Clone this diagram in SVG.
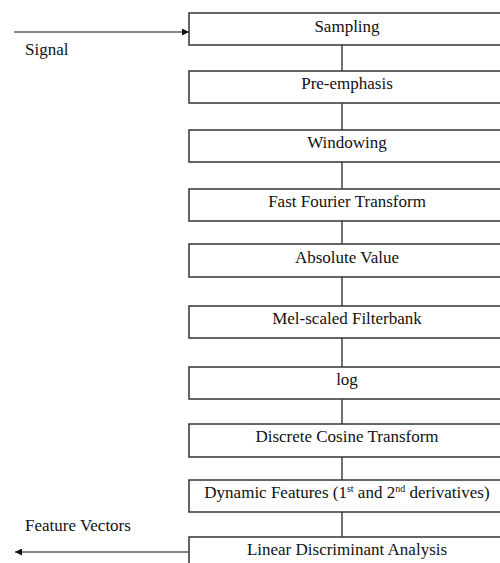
<svg xmlns="http://www.w3.org/2000/svg" width="500" height="563" viewBox="0 0 500 563">
<style>
.box{fill:#fff;stroke:#333;stroke-width:1.5}
.t{font-family:"Liberation Serif","Times New Roman",serif;font-size:17px;fill:#111;text-anchor:middle}
.l{font-family:"Liberation Serif","Times New Roman",serif;font-size:17px;fill:#111}
.c{stroke:#111;stroke-width:1.2;fill:none}
</style>
<defs>
<marker id="ah" viewBox="0 0 10 10" refX="10" refY="5" markerWidth="7" markerHeight="7" markerUnits="userSpaceOnUse" orient="auto">
<path d="M0,0L10,5L0,10z" fill="#111"/>
</marker>
</defs>
<rect width="500" height="563" fill="#fff"/>
<g id="connectors">
<line class="c" x1="14" y1="32" x2="189" y2="32" marker-end="url(#ah)"/>
<line class="c" x1="342" y1="45" x2="342" y2="71"/>
<line class="c" x1="342" y1="103" x2="342" y2="130"/>
<line class="c" x1="342" y1="162" x2="342" y2="189"/>
<line class="c" x1="342" y1="221" x2="342" y2="244"/>
<line class="c" x1="342" y1="277" x2="342" y2="306"/>
<line class="c" x1="342" y1="338" x2="342" y2="367"/>
<line class="c" x1="342" y1="399" x2="342" y2="424"/>
<line class="c" x1="342" y1="457" x2="342" y2="480"/>
<line class="c" x1="342" y1="512" x2="342" y2="537"/>
<line class="c" x1="189" y1="552" x2="15" y2="552" marker-end="url(#ah)"/>
</g>
<g id="signal"><text class="l" x="25" y="55">Signal</text></g>
<g id="featurevectors"><text class="l" x="25" y="531">Feature Vectors</text></g>
<g id="sampling"><rect class="box" x="189" y="13" width="320" height="32"/><text class="t" x="347" y="32">Sampling</text></g>
<g id="preemphasis"><rect class="box" x="189" y="71" width="320" height="32"/><text class="t" x="347" y="89">Pre-emphasis</text></g>
<g id="windowing"><rect class="box" x="189" y="130" width="320" height="32"/><text class="t" x="347" y="148">Windowing</text></g>
<g id="fft"><rect class="box" x="189" y="189" width="320" height="32"/><text class="t" x="347" y="207">Fast Fourier Transform</text></g>
<g id="absolute"><rect class="box" x="189" y="244" width="320" height="33"/><text class="t" x="347" y="263">Absolute Value</text></g>
<g id="melfilter"><rect class="box" x="189" y="306" width="320" height="32"/><text class="t" x="347" y="324">Mel-scaled Filterbank</text></g>
<g id="log"><rect class="box" x="189" y="367" width="320" height="32"/><text class="t" x="347" y="385">log</text></g>
<g id="dct"><rect class="box" x="189" y="424" width="320" height="33"/><text class="t" x="347" y="442">Discrete Cosine Transform</text></g>
<g id="dynamic"><rect class="box" x="189" y="480" width="320" height="32"/><text class="t" x="347" y="498">Dynamic Features (1<tspan font-size="10" dy="-6">st</tspan><tspan dy="6"> and 2</tspan><tspan font-size="10" dy="-6">nd</tspan><tspan dy="6"> derivatives)</tspan></text></g>
<g id="lda"><rect class="box" x="189" y="537" width="320" height="32"/><text class="t" x="347" y="555">Linear Discriminant Analysis</text></g>
</svg>
